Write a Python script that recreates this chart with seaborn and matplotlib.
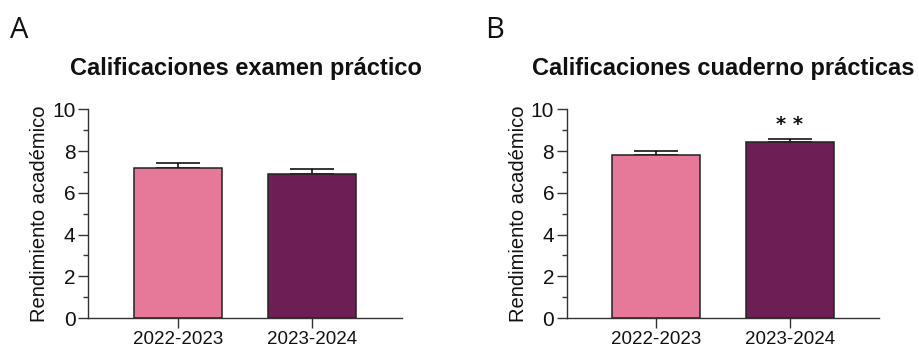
import matplotlib
matplotlib.use("Agg")
import matplotlib.pyplot as plt
from matplotlib.ticker import MultipleLocator
import seaborn as sns
import pandas as pd
import numpy as np

# Academic year groups and their mean grades (+ SEM)
years = ["2022-2023", "2023-2024"]
exam_means = [7.19, 6.90]
exam_sem = [0.23, 0.23]
notebook_means = [7.81, 8.44]
notebook_sem = [0.19, 0.16]
notebook_sig = ["", "**"]

titles = ["Calificaciones examen práctico", "Calificaciones cuaderno prácticas"]
panel_letters = ["A", "B"]
ylabel = "Rendimiento académico"
colors = ["#E67899", "#6C1E55"]

sns.set_theme(style="ticks")
plt.rcParams["font.family"] = ["Liberation Sans", "DejaVu Sans"]

fig = plt.figure(figsize=(9.2, 3.47), dpi=100)
ax_a = fig.add_axes([88 / 920, 1 - 318 / 347, (402 - 88) / 920, (318 - 109.3) / 347])
ax_b = fig.add_axes([566.7 / 920, 1 - 318 / 347, (879.3 - 566.7) / 920, (318 - 109.3) / 347])

panels = [
    (ax_a, exam_means, exam_sem, None),
    (ax_b, notebook_means, notebook_sem, notebook_sig),
]

for i, (ax, means, sem, sig) in enumerate(panels):
    df = pd.DataFrame({"year": years, "score": means})
    sns.barplot(data=df, x="year", y="score", hue="year", palette=colors,
                saturation=1, errorbar=None, width=0.66, edgecolor="#222222",
                linewidth=1.1, legend=False, ax=ax, zorder=3)
    x = np.arange(len(years))
    ax.errorbar(x, means, yerr=[np.zeros(len(sem)), sem], fmt="none",
                ecolor="black", elinewidth=1.1, capsize=15.8, capthick=1.1,
                zorder=2)
    if sig is not None:
        for xi, m, s, lab in zip(x, means, sem, sig):
            if lab:
                ax.text(xi, m + s + 0.2, " ".join(lab), ha="center", va="bottom",
                        fontsize=14, fontweight="bold", color="#111111",
                        family=["DejaVu Sans"])

    ax.set_xlim(-0.67, 1.67)
    ax.set_ylim(0, 10)
    ax.yaxis.set_major_locator(MultipleLocator(2))
    ax.yaxis.set_minor_locator(MultipleLocator(1))
    ax.set_xlabel("")
    ax.set_ylabel(ylabel, fontsize=14.5, color="#111111", labelpad=2)
    ax.tick_params(axis="both", which="major", length=7, width=1.0,
                   labelsize=15, colors="#333333", labelcolor="#111111", pad=2)
    ax.tick_params(axis="y", which="minor", length=3.5, width=1.0, colors="#333333")
    ax.tick_params(axis="x", labelsize=13.5)
    sns.despine(ax=ax)
    for sp in ("left", "bottom"):
        ax.spines[sp].set_linewidth(1.0)
        ax.spines[sp].set_color("#333333")

fig.text(246 / 920, 1 - 68 / 347, titles[0], ha="center", va="center",
         fontsize=17, fontweight="bold", color="#111111")
fig.text(723 / 920, 1 - 68 / 347, titles[1], ha="center", va="center",
         fontsize=17, fontweight="bold", color="#111111")
fig.text(10 / 920, 1 - 30 / 347, panel_letters[0], ha="left", va="center",
         fontsize=21, color="#111111", family=["Open Sans", "DejaVu Sans"])
fig.text(485 / 920, 1 - 30 / 347, panel_letters[1], ha="left", va="center",
         fontsize=21, color="#111111", family=["Open Sans", "DejaVu Sans"])

fig.savefig("out.png", dpi=100, facecolor="white")
